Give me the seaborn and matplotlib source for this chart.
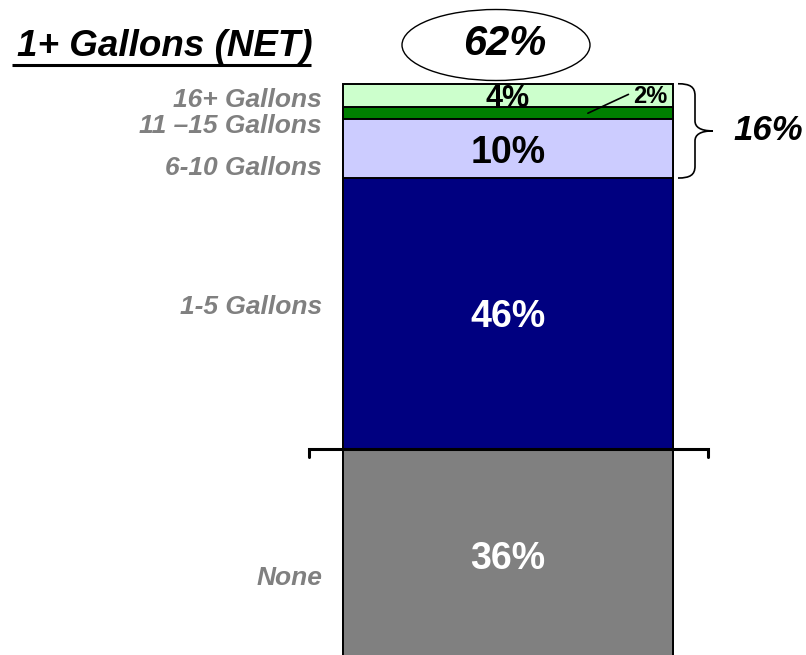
import numpy as np
import matplotlib
matplotlib.use("Agg")
import matplotlib.pyplot as plt
import matplotlib.transforms as mtransforms
from matplotlib.patches import Ellipse, PathPatch
from matplotlib.path import Path
import seaborn as sns

# Data (bottom to top)
segments = ["None", "1-5 Gallons", "6-10 Gallons", "11 \u201315 Gallons", "16+ Gallons"]
values = [36, 46, 10, 2, 4]
colors = ["#808080", "#000080", "#CCCCFF", "#008000", "#CCFFCC"]
value_colors = ["white", "white", "black", "black", "black"]
net_label = "62%"
sub_net_label = "16%"
title = "1+ Gallons (NET)"

W, H = 806, 655

sns.set_style("white")
plt.rcParams["font.family"] = ["Liberation Sans", "DejaVu Sans"]
plt.rcParams["text.color"] = "black"

fig = plt.figure(figsize=(W / 100, H / 100), dpi=100)
ax = fig.add_axes([0, 0, 1, 1])

# pixel transform for free-floating annotations (origin top-left)
px = mtransforms.Affine2D().scale(1 / W, -1 / H).translate(0, 1) + fig.transFigure

# stacked bar via overlapping cumulative bars
cum = np.cumsum(values)
for i in range(len(values) - 1, -1, -1):
    sns.barplot(x=["bar"], y=[cum[i]], color=colors[i], saturation=1, width=1.0,
                edgecolor="black", linewidth=1.4, ax=ax)

# value labels
for i, v in enumerate(values):
    if segments[i].startswith("11"):
        continue
    size = 22 if v == 4 else 27
    ax.text(0, cum[i] - v / 2, f"{v}%", ha="center", va="center_baseline",
            fontsize=size, fontweight="bold", color=value_colors[i])

# small 2% label with leader line
ax.text(0.43, 96.3, "2%", ha="center", va="center_baseline", fontsize=17,
        fontweight="bold", color="black")
ax.plot([0.242, 0.365], [cum[3] - 1, 96.2], color="black", lw=1.2)

# category labels (gray, bold italic, right aligned)
label_y = [578, 307, 168, 126, 100]
for name, y in zip(segments, label_y):
    ax.text(322, y, name, transform=px, ha="right", va="center",
            fontsize=19, fontweight="bold", fontstyle="italic", color="#808080")

# title with underline
ax.text(17, 47, title, transform=px, ha="left", va="center", fontsize=26.5,
        fontweight="bold", fontstyle="italic", color="black")
ax.plot([12, 311], [65, 65], transform=px, color="black", lw=2.2,
        solid_capstyle="butt")

# ellipse with NET value
ax.add_patch(Ellipse((496, 45), 188, 71, transform=px, fill=False,
                     edgecolor="black", lw=1.0))
ax.text(505, 44, net_label, transform=px, ha="center", va="center",
        fontsize=30, fontweight="bold", fontstyle="italic", color="black")

# brace on the right spanning the top three segments
xl, xm, xt = 678, 695, 713
yt, yb = 661 - cum[4] * 5.89, 661 - cum[1] * 5.89
ym = (yt + yb) / 2
verts = [(xl, yt), (xl + 12, yt), (xm, yt + 3), (xm, yt + 12),
         (xm, ym - 10),
         (xm, ym - 4), (xm + 5, ym), (xt, ym),
         (xm + 5, ym), (xm, ym + 4), (xm, ym + 10),
         (xm, yb - 12),
         (xm, yb - 3), (xl + 12, yb), (xl, yb)]
codes = [Path.MOVETO, Path.CURVE4, Path.CURVE4, Path.CURVE4,
         Path.LINETO,
         Path.CURVE4, Path.CURVE4, Path.CURVE4,
         Path.CURVE4, Path.CURVE4, Path.CURVE4,
         Path.LINETO,
         Path.CURVE4, Path.CURVE4, Path.CURVE4]
ax.add_patch(PathPatch(Path(verts, codes), transform=px, fill=False,
                       edgecolor="black", lw=1.2))
ax.text(768, ym, sub_net_label, transform=px, ha="center", va="center",
        fontsize=25, fontweight="bold", fontstyle="italic", color="black")

# horizontal bracket at None / 1+ boundary
ax.plot([-0.603, -0.603, 0.606, 0.606], [cum[0] - 1.3, cum[0], cum[0], cum[0] - 1.3],
        color="black", lw=2.2, solid_joinstyle="miter")

ax.set_xlim(-508 / 330, (W - 508) / 330)
ax.set_ylim((661 - H) / 5.89, 661 / 5.89)
ax.axis("off")

fig.savefig("out.png", dpi=100)
